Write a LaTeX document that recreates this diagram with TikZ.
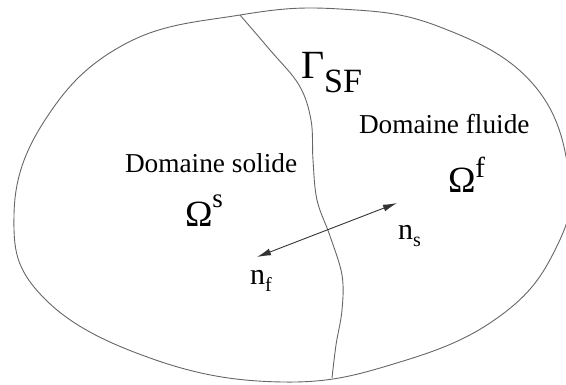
\documentclass[tikz,border=0pt]{standalone}
\usepackage{fontspec}
\setmainfont{Liberation Serif}
\usetikzlibrary{arrows.meta}
\tikzset{
  contour/.style={draw=black!60, line width=0.9pt},
  lbl/.style={inner sep=0pt, outer sep=0pt, anchor=base west, text=black},
  fs/.style={font=\fontsize{27.3}{30}\selectfont},
}
\begin{document}
\begin{tikzpicture}[x=1pt,y=-1pt]
\useasboundingbox (0,0) rectangle (566,384);
% outer boundary
\draw[contour] plot[smooth cycle, tension=0.7] coordinates {
 (240,15) (125,44) (45,120) (14,215) (42,296) (150,358) (283,382)
 (400,362) (500,316) (556,248) (569,175) (533,84) (440,27) (340,9)};
% interface
\draw[contour] plot[smooth, tension=0.6] coordinates {
 (240,15) (270,50) (299,85) (311,120) (313,160) (317,200) (330,236)
 (342,275) (342,310) (336,345) (332,378)};
% normals
\coordinate (nftip) at (257,257);
\coordinate (nstip) at (397,203);
\draw[black!80, line width=0.9pt, {Latex[length=14pt,width=7pt]}-{Latex[length=14pt,width=7pt]}] (nftip) -- (nstip);
% labels
\node[lbl, fs] (solide) at (125,172) {Domaine solide};
\node[lbl, fs] (fluide) at (359,133) {Domaine fluide};
\node[lbl, font=\fontsize{37}{40}\selectfont] (omegas) at (185,226)
  {Ω\raisebox{19pt}{\fontsize{27}{30}\selectfont s}};
\node[lbl, font=\fontsize{37}{40}\selectfont] (omegaf) at (448,192)
  {Ω\raisebox{15pt}{\fontsize{29}{30}\selectfont f}};
\node[lbl, font=\fontsize{40}{44}\selectfont] (gamma) at (301,78)
  {Γ\raisebox{-14pt}{\fontsize{34}{36}\selectfont SF}};
\node[lbl, font=\fontsize{30}{32}\selectfont] (ns) at (398,239)
  {n\raisebox{-7pt}{\fontsize{20}{22}\selectfont s}};
\node[lbl, font=\fontsize{30}{32}\selectfont] (nf) at (250,284)
  {n\raisebox{-7pt}{\fontsize{20}{22}\selectfont f}};
\end{tikzpicture}
\end{document}
